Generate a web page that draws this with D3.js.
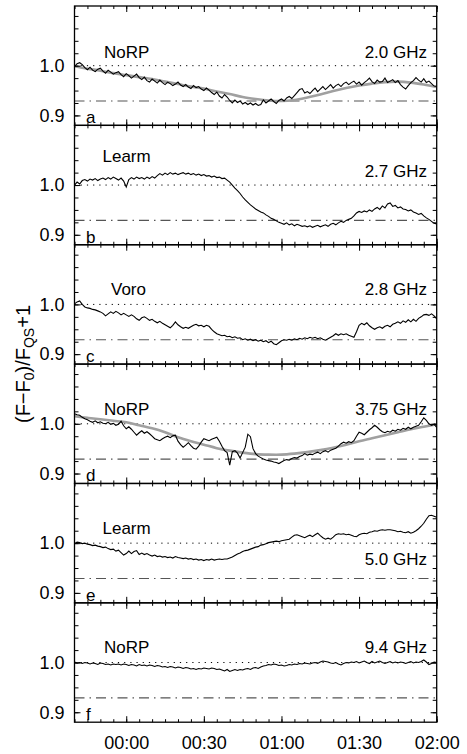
<!DOCTYPE html>
<html><head><meta charset="utf-8">
<script src="https://cdn.jsdelivr.net/npm/d3@7"></script>
<style>body{margin:0;background:#fff}svg text{font-family:"Liberation Sans",Arial,Helvetica,sans-serif;fill:#000}</style>
</head><body><svg id="c" width="467" height="754"></svg>
<script>
// ---------- DATA ----------
const timeStart = -20;   // minutes relative to 00:00
const timeStep = 1;      // minutes per sample

const series2p0 = [0.998,1.004,1.006,1.002,0.996,0.992,0.997,0.991,0.988,0.993,0.995,0.989,0.985,0.991,0.987,0.983,0.986,0.988,0.982,0.978,
0.984,0.980,0.975,0.979,0.983,0.976,0.972,0.977,0.970,0.967,0.973,0.969,0.965,0.971,0.966,0.962,0.967,0.964,0.960,0.963,
0.967,0.961,0.958,0.962,0.957,0.954,0.960,0.956,0.958,0.953,0.950,0.955,0.951,0.946,0.942,0.947,0.939,0.935,0.942,0.937,
0.930,0.925,0.931,0.926,0.929,0.923,0.926,0.922,0.925,0.921,0.924,0.920,0.922,0.931,0.925,0.929,0.933,0.928,0.924,0.930,
0.933,0.929,0.935,0.938,0.934,0.940,0.946,0.952,0.954,0.945,0.948,0.944,0.950,0.955,0.948,0.953,0.958,0.952,0.957,0.962,
0.955,0.960,0.963,0.958,0.964,0.967,0.962,0.966,0.969,0.963,0.967,0.961,0.966,0.970,0.975,0.968,0.964,0.971,0.967,0.968,
0.975,0.966,0.969,0.972,0.966,0.970,0.962,0.957,0.953,0.960,0.966,0.970,0.976,0.971,0.967,0.974,0.966,0.969,0.964,0.959,0.958];

const series2p7 = [1.000,1.006,1.002,1.009,1.011,1.008,1.012,1.010,1.013,1.009,1.012,1.014,1.011,1.015,1.012,1.016,1.013,1.010,1.014,1.008,
0.996,1.011,1.015,1.012,1.016,1.013,1.015,1.012,1.016,1.013,1.017,1.014,1.019,1.023,1.020,1.024,1.021,1.025,1.022,1.024,
1.021,1.023,1.025,1.022,1.024,1.021,1.023,1.020,1.022,1.019,1.021,1.018,1.019,1.016,1.018,1.015,1.016,1.013,1.014,1.010,
1.006,1.000,0.994,0.989,0.983,0.976,0.970,0.965,0.960,0.956,0.952,0.949,0.946,0.944,0.940,0.937,0.933,0.931,0.928,0.925,
0.923,0.921,0.924,0.920,0.922,0.918,0.921,0.919,0.917,0.918,0.916,0.918,0.915,0.917,0.919,0.916,0.918,0.920,0.917,0.921,
0.923,0.920,0.924,0.927,0.925,0.929,0.931,0.933,0.938,0.944,0.947,0.945,0.948,0.946,0.950,0.947,0.952,0.955,0.951,0.958,
0.954,0.962,0.964,0.957,0.959,0.954,0.956,0.952,0.951,0.948,0.950,0.946,0.944,0.941,0.943,0.938,0.934,0.931,0.927,0.923,0.922];

const series2p8 = [1.001,1.005,1.007,1.000,0.995,0.993,0.992,0.990,0.989,0.987,0.985,0.982,0.977,0.981,0.985,0.982,0.986,0.983,0.979,0.982,
0.979,0.976,0.979,0.976,0.971,0.968,0.973,0.975,0.972,0.968,0.970,0.966,0.963,0.966,0.962,0.959,0.956,0.953,0.958,0.965,
0.959,0.955,0.952,0.954,0.952,0.955,0.958,0.960,0.957,0.958,0.955,0.958,0.956,0.950,0.945,0.941,0.939,0.937,0.938,0.935,
0.936,0.933,0.935,0.932,0.933,0.929,0.931,0.928,0.930,0.927,0.929,0.926,0.928,0.925,0.927,0.923,0.926,0.921,0.919,0.923,
0.927,0.929,0.928,0.930,0.928,0.931,0.929,0.932,0.930,0.933,0.931,0.934,0.932,0.934,0.931,0.933,0.930,0.928,0.931,0.934,
0.937,0.941,0.938,0.941,0.939,0.941,0.938,0.936,0.934,0.945,0.958,0.962,0.959,0.963,0.957,0.953,0.950,0.953,0.955,0.952,
0.956,0.958,0.955,0.960,0.962,0.965,0.962,0.967,0.964,0.969,0.965,0.970,0.966,0.972,0.975,0.979,0.980,0.978,0.981,0.977,0.971];

const series3p75 = [1.020,1.018,1.017,1.013,1.010,1.008,1.005,1.003,1.006,1.002,1.004,1.001,1.000,1.003,0.999,1.001,0.997,0.999,1.005,0.996,
0.990,0.994,0.989,0.983,0.977,0.982,0.986,0.981,0.984,0.980,0.975,0.970,0.968,0.966,0.970,0.973,0.975,0.972,0.976,0.977,
0.965,0.958,0.953,0.957,0.962,0.956,0.951,0.949,0.955,0.963,0.970,0.968,0.966,0.969,0.971,0.973,0.965,0.955,0.946,0.942,
0.917,0.944,0.946,0.941,0.931,0.942,0.953,0.979,0.974,0.950,0.940,0.935,0.932,0.929,0.927,0.926,0.925,0.923,0.922,0.920,
0.923,0.926,0.928,0.927,0.930,0.932,0.931,0.934,0.936,0.940,0.937,0.939,0.938,0.941,0.943,0.940,0.944,0.946,0.943,0.947,
0.949,0.951,0.955,0.960,0.963,0.961,0.964,0.962,0.966,0.975,0.983,0.981,0.978,0.983,0.988,0.992,0.997,0.993,0.988,0.984,
0.982,0.985,0.983,0.987,0.985,0.989,0.987,0.991,0.989,0.993,0.990,0.993,0.995,0.997,1.004,1.012,1.007,1.000,0.997,0.999,0.993];

const series5p0 = [0.999,1.002,1.001,0.999,1.000,0.998,0.997,0.995,0.996,0.994,0.993,0.991,0.992,0.989,0.987,0.988,0.984,0.986,0.981,0.976,
0.979,0.984,0.979,0.983,0.985,0.977,0.980,0.977,0.979,0.976,0.974,0.976,0.973,0.974,0.972,0.973,0.971,0.972,0.970,0.973,
0.971,0.970,0.969,0.970,0.968,0.969,0.967,0.968,0.966,0.967,0.965,0.967,0.966,0.968,0.966,0.967,0.968,0.967,0.968,0.968,
0.970,0.972,0.975,0.978,0.980,0.983,0.985,0.986,0.988,0.990,0.992,0.993,0.996,0.997,0.999,1.001,1.002,1.003,1.004,1.003,
1.005,1.006,1.007,1.008,1.012,1.016,1.017,1.015,1.013,1.011,1.014,1.016,1.013,1.017,1.020,1.015,1.011,1.008,1.010,1.008,
1.012,1.017,1.019,1.018,1.019,1.017,1.018,1.016,1.014,1.013,1.017,1.019,1.020,1.019,1.022,1.023,1.025,1.024,1.026,1.027,
1.026,1.027,1.027,1.026,1.025,1.023,1.024,1.022,1.021,1.023,1.020,1.022,1.025,1.029,1.034,1.040,1.048,1.055,1.056,1.054,1.052];

const series9p4 = [1.001,0.999,1.000,0.998,1.000,0.999,0.997,0.999,0.998,0.996,0.999,0.998,0.996,0.997,0.995,0.997,0.996,0.997,0.995,0.997,
0.996,0.994,0.996,0.995,0.993,0.996,0.994,0.995,0.993,0.995,0.994,0.992,0.994,0.993,0.991,0.992,0.990,0.992,0.991,0.989,
0.991,0.990,0.988,0.990,0.989,0.987,0.988,0.986,0.988,0.987,0.989,0.988,0.987,0.989,0.988,0.986,0.987,0.985,0.983,0.986,
0.982,0.984,0.986,0.984,0.986,0.985,0.987,0.988,0.986,0.989,0.990,0.988,0.991,0.993,0.994,0.996,0.995,0.997,0.996,0.994,
0.995,0.993,0.994,0.996,0.995,0.997,0.996,0.998,0.997,0.999,0.998,0.997,0.999,1.000,0.998,1.001,1.003,1.002,1.001,0.999,
0.998,1.000,0.997,0.995,0.998,1.000,0.999,1.001,1.000,1.002,0.999,1.001,1.003,1.000,0.998,1.002,0.999,1.001,1.003,1.000,
0.998,1.000,1.002,0.999,1.001,0.999,1.001,1.000,0.998,1.000,1.002,0.999,1.001,1.000,1.002,1.005,1.001,0.996,0.998,1.001,1.000];

// smooth fits (gray curves), sampled every 5 minutes
const fitTimes = [-20,-15,-10,-5,0,5,10,15,20,25,30,35,40,45,50,55,60,65,70,75,80,85,90,95,100,105,110,115,120];
const fit2p0 = [0.999,0.994,0.990,0.985,0.981,0.977,0.973,0.968,0.963,0.958,0.954,0.948,0.943,0.937,0.933,0.930,0.929,0.931,0.936,0.942,0.949,0.955,0.960,0.964,0.967,0.968,0.966,0.962,0.957];
const fit3p75 = [1.015,1.012,1.009,1.006,1.003,0.997,0.991,0.983,0.973,0.965,0.958,0.951,0.946,0.942,0.939,0.938,0.938,0.940,0.943,0.947,0.952,0.958,0.965,0.971,0.977,0.983,0.989,0.994,0.999];

const observatories = ["NoRP","Learm","Voro","NoRP","Learm","NoRP"];
const frequencies = ["2.0 GHz","2.7 GHz","2.8 GHz","3.75 GHz","5.0 GHz","9.4 GHz"];
const panelLetters = ["a","b","c","d","e","f"];
const xTickValues = [0,30,60,90,120];
const xTickLabels = ["00:00","00:30","01:00","01:30","02:00"];
const yTickValues = [0.9,1.0];
const yTickLabels = ["0.9","1.0"];
const referenceLevel = 1.0;
const quietSunLevel = 0.929;

// ---------- LAYOUT ----------
const plotL = 74.5, plotR = 436.7, plotT = 6, plotB = 722.2;
const nP = 6, pH = (plotB - plotT) / nP;
const layout = [
  {obsX:104, obsDy:-7.5, frqDy:-7.5},
  {obsX:102.5, obsDy:-23.5, frqDy:-8.5},
  {obsX:111, obsDy:-9.5, frqDy:-9.5},
  {obsX:104, obsDy:-9, frqDy:-9},
  {obsX:102.5, obsDy:-9, frqDy:21.7},
  {obsX:104, obsDy:-9.4, frqDy:-9.4}
];
const frqRight = 427;
const fs = 17;

const allSeries = [series2p0, series2p7, series2p8, series3p75, series5p0, series9p4];
const fits = [fit2p0, null, null, fit3p75, null, null];

const svg = d3.select("#c");
const x = d3.scaleLinear().domain([-20,120]).range([plotL,plotR]);
const minorX = d3.range(-20,121,5);
const minorY = [0.9,0.925,0.95,0.975,1.0,1.025,1.05,1.075,1.1];

allSeries.forEach((vals, i) => {
  const y0 = plotT + pH*i, y1 = plotT + pH*(i+1);
  const y = d3.scaleLinear().domain([0.88,1.12]).range([y1,y0]);
  const g = svg.append("g");

  g.append("line").attr("x1",plotL).attr("x2",plotR).attr("y1",y(referenceLevel)).attr("y2",y(referenceLevel))
    .attr("stroke","#000").attr("stroke-width",1).attr("stroke-dasharray","1.2,5");
  g.append("line").attr("x1",plotL).attr("x2",plotR).attr("y1",y(quietSunLevel)).attr("y2",y(quietSunLevel))
    .attr("stroke","#555").attr("stroke-width",1.1).attr("stroke-dasharray","10,5,1.5,5");

  if (fits[i]) {
    const fl = d3.line().x((d,k)=>x(fitTimes[k])).y(d=>y(d)).curve(d3.curveCatmullRom);
    g.append("path").attr("d", fl(fits[i])).attr("fill","none").attr("stroke","#a0a0a0").attr("stroke-width",2.6);
  }
  const line = d3.line().x((d,k)=>x(timeStart + k*timeStep)).y(d=>y(d));
  g.append("path").attr("d", line(vals)).attr("fill","none").attr("stroke","#000").attr("stroke-width",1.1);

  const bMinor = d3.axisBottom(x).tickValues(minorX).tickSize(-3).tickFormat("");
  const bMajor = d3.axisBottom(x).tickValues(xTickValues).tickSize(-6).tickFormat("");
  const tMinor = d3.axisTop(x).tickValues(minorX).tickSize(-3).tickFormat("");
  const tMajor = d3.axisTop(x).tickValues(xTickValues).tickSize(-6).tickFormat("");
  const lMinor = d3.axisLeft(y).tickValues(minorY).tickSize(-4).tickFormat("");
  const lMajor = d3.axisLeft(y).tickValues(yTickValues).tickSize(-6).tickFormat((d,k)=>yTickLabels[k]).tickPadding(10);
  const rMinor = d3.axisRight(y).tickValues(minorY).tickSize(-4).tickFormat("");
  const rMajor = d3.axisRight(y).tickValues(yTickValues).tickSize(-6).tickFormat("");
  [[bMinor,0,y1],[bMajor,0,y1],[tMinor,0,y0],[tMajor,0,y0],[lMinor,plotL,0],[lMajor,plotL,0],[rMinor,plotR,0],[rMajor,plotR,0]].forEach(([ax,tx,ty])=>{
    const a = g.append("g").attr("transform",`translate(${tx},${ty})`).call(ax);
    a.select(".domain").remove();
    a.selectAll(".tick line").attr("stroke","#000").attr("stroke-width",1);
  });
  g.selectAll(".tick text").attr("font-size",18).attr("fill","#000").attr("font-family","Liberation Sans, Arial, sans-serif");

  g.append("rect").attr("x",plotL).attr("y",y0).attr("width",plotR-plotL).attr("height",pH)
    .attr("fill","none").attr("stroke","#000").attr("stroke-width",1.3);

  g.append("text").attr("x",layout[i].obsX).attr("y",y(referenceLevel)+layout[i].obsDy).attr("font-size",fs).text(observatories[i]);
  g.append("text").attr("x",frqRight).attr("y",y(referenceLevel)+layout[i].frqDy).attr("font-size",fs).attr("text-anchor","end").text(frequencies[i]);
  g.append("text").attr("x",86).attr("y",y1-2).attr("font-size",fs).text(panelLetters[i]);

  if (i === nP-1) {
    const xl = d3.axisBottom(x).tickValues(xTickValues).tickSize(0).tickPadding(14).tickFormat((d,k)=>xTickLabels[k]);
    const a = svg.append("g").attr("transform",`translate(0,${y1})`).call(xl);
    a.select(".domain").remove();
    a.selectAll("text").attr("font-size",18).attr("fill","#000").attr("font-family","Liberation Sans, Arial, sans-serif");
  }
});

const yt = svg.append("text").attr("transform",`translate(30,364) rotate(-90)`).attr("text-anchor","middle").attr("font-size",20);
yt.append("tspan").text("(F\u2212F");
yt.append("tspan").attr("font-size",14).attr("dy",4).text("0");
yt.append("tspan").attr("dy",-4).text(")/F");
yt.append("tspan").attr("font-size",14).attr("dy",4).text("QS");
yt.append("tspan").attr("dy",-4).text("+1");
</script></body></html>
